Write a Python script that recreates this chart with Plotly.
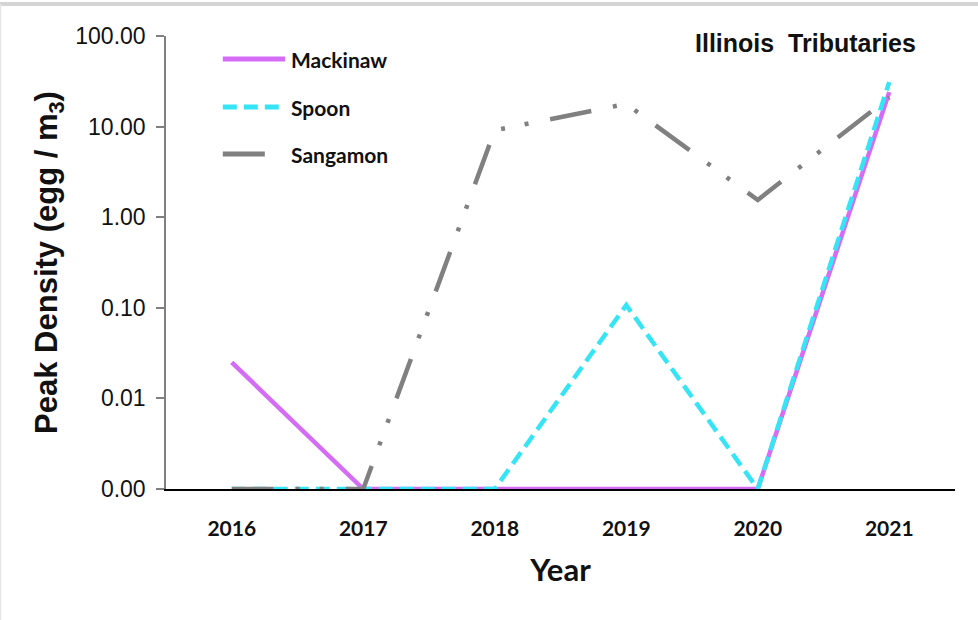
import plotly.graph_objects as go

# Peak egg density by year for three Illinois River tributaries.
# Zero observations are plotted at the axis floor (0.001).
years = ["2016", "2017", "2018", "2019", "2020", "2021"]
mackinaw = [0.025, 0.001, 0.001, 0.001, 0.001, 24.0]
spoon = [0.001, 0.001, 0.001, 0.107, 0.001, 31.0]
sangamon = [0.001, 0.001, 9.1, 17.8, 1.55, 21.0]

series_names = ["Mackinaw", "Spoon", "Sangamon"]
series_colors = ["#D56CF5", "#35E5F5", "#808080"]
series_dashes = ["solid", "14px,7px", "42px,22px,4px,20px,4px,22px"]
series_values = [mackinaw, spoon, sangamon]

y_tickvals = [0.001, 0.01, 0.1, 1, 10, 100]
y_ticktext = ["0.00", "0.01", "0.10", "1.00", "10.00", "100.00"]

fig = go.Figure()
for name, vals, color, dash in zip(series_names, series_values, series_colors, series_dashes):
    fig.add_trace(go.Scatter(
        x=years, y=vals, name=name, mode="lines",
        line=dict(color=color, width=4.5, dash=dash),
        cliponaxis=False, showlegend=False,
    ))

# Hand-built legend: line samples plus labels in the upper-left corner
legend_rows_y = [0.949, 0.843, 0.7395]
for name, color, dash, ly in zip(series_names, series_colors, series_dashes, legend_rows_y):
    fig.add_shape(type="line", xref="paper", yref="paper",
                  x0=0.072, x1=0.151, y0=ly, y1=ly,
                  line=dict(color=color, width=5, dash=dash))
    fig.add_annotation(xref="paper", yref="paper", x=0.156, y=ly,
                       text=name, showarrow=False, xanchor="left", yanchor="middle",
                       font=dict(family="Lato", size=21, color="#111111", weight="bold"))

fig.add_annotation(xref="paper", yref="paper", x=0.81, y=0.985,
                   text="Illinois&nbsp;&nbsp;Tributaries", showarrow=False,
                   xanchor="center", yanchor="middle",
                   font=dict(family="Liberation Sans", size=25, color="#111111", weight="bold"))

# Light frame strip along the top edge and a faint left edge
fig.add_shape(type="line", xref="paper", yref="paper",
              x0=-0.25, x1=1.05, y0=1.0706, y1=1.0706,
              line=dict(color="#D4D4D4", width=4))
fig.add_shape(type="line", xref="paper", yref="paper",
              x0=-0.2098, x1=-0.2098, y0=-0.3, y1=1.07,
              line=dict(color="#E6E6E6", width=1.5))

fig.update_layout(
    width=978, height=620,
    margin=dict(l=166, r=23, t=36, b=131),
    paper_bgcolor="white", plot_bgcolor="white",
    showlegend=False,
    xaxis=dict(
        type="category", range=[-0.5, 5.5],
        showline=True, linecolor="#000000", linewidth=2,
        showgrid=False, zeroline=False, ticks="", layer="below traces",
        ticklabelstandoff=20,
        tickfont=dict(family="Lato", size=21, color="#111111", weight="bold"),
        title=dict(text="Year", standoff=20,
                   font=dict(family="Lato", size=31, color="#111111", weight="bold")),
    ),
    yaxis=dict(
        type="log", range=[-3, 2],
        tickvals=y_tickvals, ticktext=y_ticktext,
        showline=True, linecolor="#808080", linewidth=1.5,
        ticks="outside", ticklen=8, tickcolor="#808080", tickwidth=1.5,
        showgrid=False, zeroline=False,
        ticklabelstandoff=6,
        tickfont=dict(family="Liberation Sans", size=23, color="#111111"),
        title=dict(text="Peak Density (egg / m<sub>3</sub>)", standoff=8,
                   font=dict(family="Liberation Sans", size=31, color="#111111", weight="bold")),
    ),
)

fig.write_html("out.html")
